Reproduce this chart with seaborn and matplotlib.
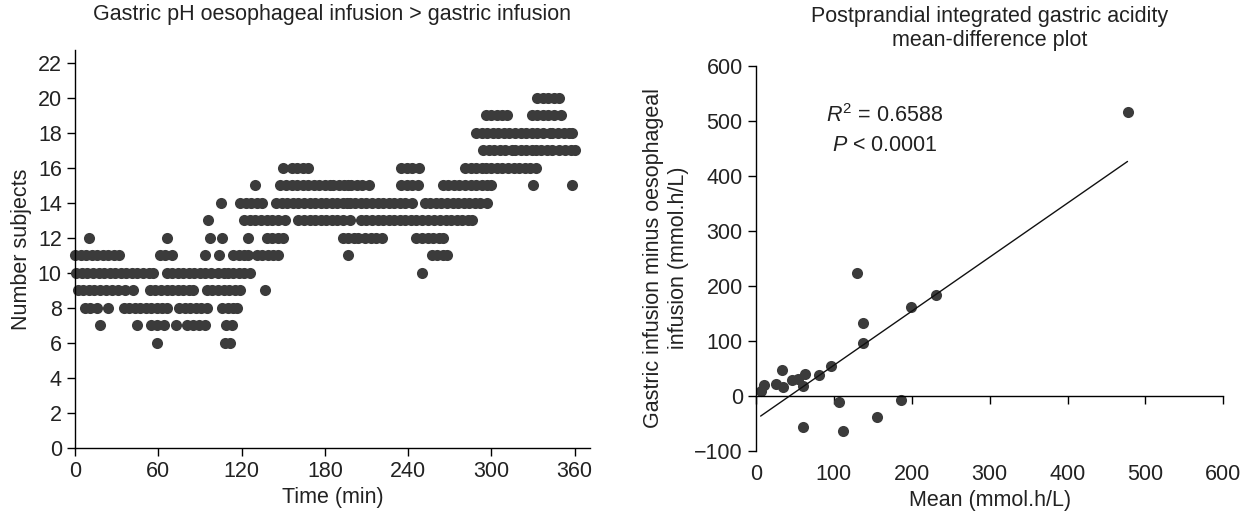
import numpy as np
import pandas as pd
import seaborn as sns
import matplotlib
matplotlib.use("Agg")
import matplotlib.pyplot as plt

# left panel: times (min) at which each subject count was seen
lvl6 = [59, 108, 112]
lvl7 = [18, 45, 55, 59, 64, 73, 81, 85, 89, 94, 109, 113]
lvl8 = [7, 11, 16, 24, 35, 39, 43, 47, 51, 55, 59, 63, 66, 75, 79, 83, 87, 91, 95,
        106, 110, 114, 117]
lvl9 = [2, 6, 10, 14, 18, 22, 27, 31, 36, 42, 54, 58, 62, 66, 70, 74, 78, 82, 85,
        95, 99, 103, 107, 111, 115, 119, 137]
lvl10 = [1, 5, 9, 13, 17, 21, 25, 29, 33, 37, 41, 45, 49, 53, 56, 66, 70, 74, 78, 82,
         86, 90, 94, 98, 103, 107, 110, 114, 118, 122, 126, 250]
lvl11 = [0, 4, 8, 12, 16, 20, 24, 28, 32, 61, 65, 70, 94, 104, 114, 118, 122, 125,
         131, 135, 139, 143, 146, 197, 257, 261, 265, 268]
lvl12 = [10, 66, 97, 106, 125, 138, 142, 146, 150, 193, 197, 201, 204, 209, 213,
         217, 221, 246, 250, 254, 258, 262, 265]
lvl13 = [96, 122, 126, 130, 134, 138, 142, 146, 151, 161, 165, 169, 173, 177, 181,
         185, 189, 193, 198, 206, 210, 214, 218, 222, 226, 230, 234, 238, 242, 246,
         250, 254, 259, 263, 267, 271, 275, 279, 283, 286]
lvl14 = [105, 119, 123, 127, 131, 135, 145, 149, 153, 157, 161, 165, 169, 173, 177,
         181, 185, 189, 193, 196, 198, 202, 206, 210, 214, 218, 222, 226, 230, 234,
         238, 243, 252, 256, 260, 264, 268, 272, 276, 280, 284, 288, 292, 297]
lvl15 = [130, 148, 152, 156, 160, 164, 168, 172, 176, 180, 184, 186, 190, 194, 197,
         199, 203, 207, 212, 235, 239, 243, 247, 265, 269, 273, 277, 281, 285, 289,
         293, 297, 300, 330, 358]
lvl16 = [150, 156, 160, 164, 168, 235, 239, 243, 248, 281, 285, 289, 293, 296, 300,
         304, 308, 312, 316, 320, 324, 328, 332]
lvl17 = [294, 298, 302, 306, 310, 315, 317, 321, 325, 329, 332, 336, 340, 344, 349,
         353, 357, 360]
lvl18 = [289, 293, 297, 301, 305, 309, 313, 317, 321, 325, 329, 333, 337, 342, 344,
         348, 352, 356, 358]
lvl19 = [296, 300, 304, 308, 311, 329, 333, 337, 341, 345, 350]
lvl20 = [333, 337, 341, 345, 349]

levels = {6: lvl6, 7: lvl7, 8: lvl8, 9: lvl9, 10: lvl10, 11: lvl11, 12: lvl12,
          13: lvl13, 14: lvl14, 15: lvl15, 16: lvl16, 17: lvl17, 18: lvl18,
          19: lvl19, 20: lvl20}

# right panel: mean vs difference (mmol.h/L)
mean_vals = [130, 231, 199, 137, 138, 96, 81, 33, 63, 46, 54, 26, 35, 60, 10, 6,
             106, 186, 155, 60, 112, 477]
diff_vals = [224, 183, 162, 133, 96, 54, 38, 47, 39, 28, 30, 21, 16, 18, 20, 9,
             -11, -8, -39, -56, -65, 516]

time_list = []
count_list = []
for n, times in levels.items():
    time_list += times
    count_list += [n] * len(times)
df_left = pd.DataFrame({'time': time_list, 'count': count_list})
df_right = pd.DataFrame({'mean': mean_vals, 'diff': diff_vals})

sns.set_style('ticks')
plt.rcParams['font.family'] = ['Liberation Sans', 'DejaVu Sans']
plt.rcParams['mathtext.fontset'] = 'custom'
plt.rcParams['mathtext.rm'] = 'Liberation Sans'
plt.rcParams['mathtext.it'] = 'Liberation Sans:italic'
plt.rcParams['text.color'] = '#222222'
plt.rcParams['axes.labelcolor'] = '#222222'
plt.rcParams['xtick.color'] = '#222222'
plt.rcParams['ytick.color'] = '#222222'

fs = 15.5
dot = '#3b3b3b'

fig = plt.figure(figsize=(12.52, 5.13), dpi=100)
ax1 = fig.add_axes([0.0599, 0.1273, 0.4113, 0.7743])
ax2 = fig.add_axes([0.6038, 0.1214, 0.3733, 0.7505])

# left
sns.scatterplot(data=df_left, x='time', y='count', ax=ax1, color=dot, s=64,
                linewidth=0, clip_on=False)
ax1.set_xlim(0, 371)
ax1.set_ylim(0, 22.7)
ax1.set_xticks([0, 60, 120, 180, 240, 300, 360])
ax1.set_yticks(range(0, 23, 2))
ax1.set_xlabel('Time (min)', fontsize=fs)
ax1.set_ylabel('Number subjects', fontsize=fs)
ax1.set_title('Gastric pH oesophageal infusion > gastric infusion', fontsize=fs, pad=22)
ax1.tick_params(labelsize=fs, length=6, width=1, color='black')
sns.despine(ax=ax1)

# right
sns.regplot(data=df_right, x='mean', y='diff', ax=ax2, ci=None, truncate=True,
            scatter_kws={'color': dot, 's': 64, 'linewidths': 0, 'alpha': 1},
            line_kws={'color': '#111111', 'lw': 1.0})
ax2.set_xlim(0, 600)
ax2.set_ylim(-100, 600)
ax2.set_xticks(range(0, 601, 100))
ax2.set_yticks(range(-100, 601, 100))
ax2.spines['bottom'].set_position(('data', 0))
ax2.tick_params(labelsize=fs, length=6, width=1, color='black')
ax2.tick_params(axis='x', pad=43)
ax2.set_xlabel('Mean (mmol.h/L)', fontsize=fs)
ax2.set_ylabel('Gastric infusion minus oesophageal\ninfusion (mmol.h/L)', fontsize=fs)
ax2.set_title('Postprandial integrated gastric acidity\nmean-difference plot',
              fontsize=fs, pad=14)
ax2.text(165, 509, r'$R^2$ = 0.6588', fontsize=fs, ha='center', va='center')
ax2.text(165, 455, r'$P$ < 0.0001', fontsize=fs, ha='center', va='center')
sns.despine(ax=ax2)

for ax in (ax1, ax2):
    for sp in ('left', 'bottom'):
        ax.spines[sp].set_color('black')
        ax.spines[sp].set_linewidth(1)

fig.savefig('out.png', dpi=100)
